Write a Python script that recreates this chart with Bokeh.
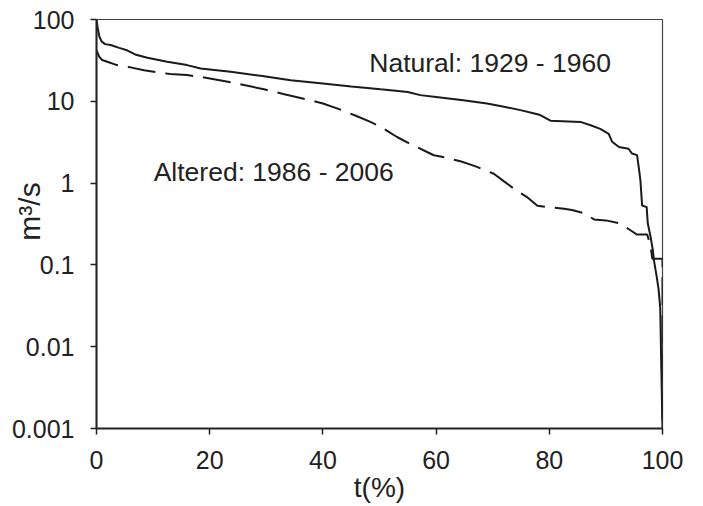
import math
from bokeh.plotting import figure
from bokeh.models import FixedTicker, Label, Range1d
from bokeh.embed import file_html
from bokeh.resources import INLINE

# Flow duration curves (x: % of time exceeded, y: discharge m3/s)
natural_t = [0, 0.2, 0.5, 0.9, 1.5, 2.5, 4, 5.4, 7, 9, 12.5, 16, 18.4, 23.7, 29, 34.3,
             40, 45, 50.2, 55, 57.2, 60, 64.8, 69, 72, 74.9, 77, 78.4, 80.2, 85.5,
             87.3, 89, 90.5, 91.1, 92.3, 94.0, 94.6, 95.5, 95.8, 96.1, 96.4, 97.2,
             97.4, 97.9, 98.3, 98.5, 99.0, 99.3, 99.6, 99.8, 100]
natural_q = [100, 80, 62, 54, 50, 48.7, 45, 42, 37, 34, 30.4, 27.7, 25.2, 22.9, 20.5, 18.1,
             16.5, 15.2, 14.0, 13.0, 11.9, 11.3, 10.3, 9.4, 8.6, 7.8, 7.2, 6.8, 5.8, 5.6,
             5.1, 4.6, 4.0, 3.2, 2.76, 2.63, 2.3, 2.2, 1.57, 1.08, 0.53, 0.51,
             0.32, 0.22, 0.15, 0.113, 0.07, 0.051, 0.03, 0.005, 0.001]

altered_t = [0, 0.5, 1.0, 1.9, 3.6, 6, 8.4, 13, 16, 18.4, 24, 29.6, 33, 37.8, 40, 42.5,
             45.5, 48.4, 49.6, 51.5, 53.1, 55.5, 58.4, 59.6, 61, 64.3, 67, 70.2, 72,
             74.3, 76, 77.9, 79.6, 82.6, 84, 86.1, 87.9, 90, 92.6, 94.0, 95.5, 97.3,
             97.6, 98.0, 98.2, 100, 100]
altered_q = [42, 35, 32, 30.4, 27.7, 26, 24, 21.5, 20.9, 19.9, 17, 14, 12.3, 10.3, 9.4, 8.2,
             6.8, 5.6, 5.1, 4.3, 3.66, 3.0, 2.4, 2.19, 2.1, 1.85, 1.6, 1.3, 1.05,
             0.8, 0.68, 0.53, 0.51, 0.485, 0.47, 0.43, 0.36, 0.35, 0.32, 0.275, 0.235, 0.235,
             0.2, 0.15, 0.119, 0.119, 0.001]

x_ticks = [0, 20, 40, 60, 80, 100]
y_ticks = [0.001, 0.01, 0.1, 1, 10, 100]
y_tick_labels = ["0.001", "0.01", "0.1", "1", "10", "100"]

FONT = "Liberation Sans"
TXT = "#222222"
LINE = "#1a1a1a"

p = figure(width=703, height=506, y_axis_type="log",
           x_range=Range1d(0, 100), y_range=Range1d(0.001, 100),
           output_backend="svg", toolbar_location=None,
           min_border_left=96, min_border_right=41, min_border_top=19, min_border_bottom=78)

p.background_fill_color = "white"
p.border_fill_color = "white"
p.outline_line_color = "#444444"
p.outline_line_width = 1.2
p.xgrid.grid_line_color = None
p.ygrid.grid_line_color = None

p.line(natural_t, natural_q, line_color=LINE, line_width=2)
p.line(altered_t, altered_q, line_color=LINE, line_width=2, line_dash="28 10")

for ax in (p.xaxis[0], p.yaxis[0]):
    ax.axis_line_color = "#222222"
    ax.axis_line_width = 2
    ax.major_tick_line_color = "#222222"
    ax.major_tick_line_width = 1.5
    ax.major_tick_out = 6
    ax.major_tick_in = 0
    ax.minor_tick_line_color = None
    ax.major_label_text_font = FONT
    ax.major_label_text_font_size = "25px"
    ax.major_label_text_color = TXT
    ax.axis_label_text_font = FONT
    ax.axis_label_text_font_style = "normal"
    ax.axis_label_text_color = TXT

p.xaxis.ticker = FixedTicker(ticks=x_ticks)
p.xaxis.major_label_standoff = 16
p.xaxis.axis_label = "t(%)"
p.xaxis.axis_label_text_font_size = "28px"
p.xaxis.axis_label_standoff = 0

p.yaxis.ticker = FixedTicker(ticks=y_ticks)
p.yaxis.major_label_overrides = {t: s for t, s in zip(y_ticks, y_tick_labels)}
p.yaxis.major_label_standoff = 16
# leading no-break spaces nudge the centred title upwards, as in the reference
p.yaxis.axis_label = "\u00a0\u00a0\u00a0m³/s"
p.yaxis.axis_label_text_font_size = "30px"
p.yaxis.axis_label_standoff = -37

p.add_layout(Label(x=48.2, y=29.3, text="Natural: 1929 - 1960", text_font=FONT,
                   text_font_size="26.5px", text_color=TXT, text_baseline="alphabetic"))
p.add_layout(Label(x=10.1, y=1.35, text="Altered: 1986 - 2006", text_font=FONT,
                   text_font_size="26.5px", text_color=TXT, text_baseline="alphabetic"))

open("out.html", "w").write(file_html(p, INLINE))
